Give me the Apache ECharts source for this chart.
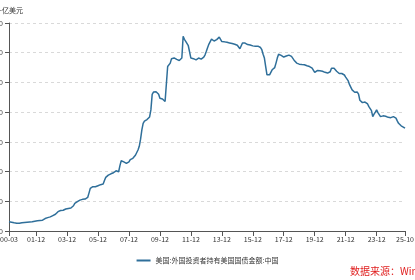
<!DOCTYPE html>
<html>
<head>
<meta charset="utf-8">
<script src="https://cdn.jsdelivr.net/npm/echarts@6/dist/echarts.min.js"></script>
<style>
html,body{margin:0;padding:0;background:#fff;}
#chart{width:415px;height:280px;}
</style>
</head>
<body>
<div id="chart"></div>
<script>
// Monthly values, 2000-03 .. 2025-10 (十亿美元)
var v2000 = [62, 60, 59, 57, 55, 54, 52, 51, 52, 53];
var v2001 = [55, 57, 57, 58, 59, 60, 61, 61, 62, 64, 66, 68];
var v2002 = [69, 70, 71, 72, 73, 78, 84, 87, 90, 93, 95, 100];
var v2003 = [104, 108, 113, 124, 130, 136, 138, 140, 140, 144, 148, 150];
var v2004 = [152, 154, 155, 156, 170, 186, 192, 197, 201, 208, 211, 213];
var v2005 = [214, 215, 218, 226, 255, 287, 292, 298, 297, 298, 296, 305];
var v2006 = [309, 312, 314, 316, 340, 361, 370, 376, 380, 385, 388, 392];
var v2007 = [398, 405, 402, 399, 440, 473, 470, 465, 459, 455, 451, 465];
var v2008 = [480, 485, 489, 500, 510, 523, 545, 570, 618, 680, 725, 740];
var v2009 = [745, 750, 760, 768, 815, 920, 935, 938, 937, 935, 920, 894];
var v2010 = [889, 889, 895, 872, 870, 1107, 1120, 1130, 1160, 1171, 1165, 1160];
var v2011 = [1155, 1150, 1148, 1155, 1164, 1310, 1290, 1276, 1265, 1247, 1240, 1164];
var v2012 = [1152, 1160, 1164, 1152, 1158, 1164, 1160, 1157, 1157, 1170, 1186, 1210];
var v2013 = [1235, 1258, 1270, 1292, 1283, 1279, 1272, 1288, 1299, 1305, 1316, 1275];
var v2014 = [1280, 1273, 1272, 1270, 1268, 1266, 1265, 1262, 1260, 1257, 1254, 1250];
var v2015 = [1240, 1227, 1240, 1265, 1268, 1265, 1263, 1255, 1249, 1252, 1254, 1246];
var v2016 = [1245, 1243, 1242, 1244, 1242, 1235, 1220, 1190, 1164, 1107, 1051, 1049];
var v2017 = [1051, 1060, 1085, 1092, 1100, 1130, 1164, 1190, 1186, 1182, 1176, 1171];
var v2018 = [1171, 1178, 1186, 1184, 1182, 1175, 1164, 1150, 1140, 1130, 1123, 1123];
var v2019 = [1123, 1120, 1121, 1119, 1115, 1112, 1110, 1107, 1103, 1096, 1090, 1067];
var v2020 = [1070, 1080, 1085, 1078, 1073, 1075, 1070, 1068, 1067, 1063, 1058, 1072];
var v2021 = [1096, 1107, 1095, 1085, 1075, 1063, 1060, 1058, 1060, 1063, 1050, 1036];
var v2022 = [1025, 1010, 985, 972, 950, 940, 934, 938, 935, 921, 880, 870];
var v2023 = [864, 860, 868, 872, 855, 837, 825, 810, 770, 786, 800, 815];
var v2024 = [797, 786, 770, 772, 775, 777, 772, 766, 765, 763, 763, 768];
var v2025 = [770, 777, 760, 741, 725, 714, 708, 702, 698, 692];

var tickLabels = ['00-03','01-12','03-12','05-12','07-12','09-12','11-12','13-12','15-12','17-12','19-12','21-12','23-12','25-10'];
var seriesName = '美国:外国投资者持有美国国债金额:中国';
var unitName = '十亿美元';
var sourceText = '数据来源：Wind';

var values = [].concat(v2000, v2001, v2002, v2003, v2004, v2005, v2006, v2007, v2008,
  v2009, v2010, v2011, v2012, v2013, v2014, v2015, v2016, v2017, v2018, v2019,
  v2020, v2021, v2022, v2023, v2024, v2025);

// month categories YY-MM starting at 2000-03
var categories = [];
for (var i = 0; i < values.length; i++) {
  var m = 2 + i; // zero-based month offset from Jan 2000
  var yy = Math.floor(m / 12) % 100;
  var mm = (m % 12) + 1;
  categories.push((yy < 10 ? '0' : '') + yy + '-' + (mm < 10 ? '0' : '') + mm);
}

var FONT = '"Noto Sans CJK SC", "Noto Sans", sans-serif';
var showTick = function (idx, val) { return tickLabels.indexOf(val) >= 0; };

var chart = echarts.init(document.getElementById('chart'));
chart.setOption({
  animation: false,
  textStyle: { fontFamily: FONT },
  grid: { left: 9, right: 10, top: 23, bottom: 49, containLabel: false, outerBoundsMode: 'none' },
  legend: {
    data: [seriesName],
    left: 'center',
    top: 252,
    icon: 'rect',
    itemWidth: 14,
    itemHeight: 2,
    itemGap: 6,
    textStyle: { fontSize: 7, color: '#333', fontFamily: FONT }
  },
  xAxis: {
    type: 'category',
    data: categories,
    boundaryGap: false,
    axisLine: { lineStyle: { color: '#555', width: 1 } },
    axisTick: { interval: showTick, length: 5, lineStyle: { color: '#555' } },
    axisLabel: { interval: showTick, fontSize: 7, color: '#333', margin: 5, hideOverlap: false, fontFamily: FONT },
    splitLine: { show: false }
  },
  yAxis: {
    type: 'value',
    min: 0,
    max: 1400,
    interval: 200,
    name: unitName,
    nameLocation: 'end',
    nameGap: 9,
    nameTextStyle: { fontSize: 7, color: '#333', fontFamily: FONT },
    axisLine: { show: true, lineStyle: { color: '#555', width: 1 } },
    axisTick: { show: true, length: 4, lineStyle: { color: '#555' } },
    axisLabel: { fontSize: 7, color: '#333', margin: 6, fontFamily: FONT },
    splitLine: { show: true, lineStyle: { color: '#d9d9d9', type: [3, 3], width: 1 } }
  },
  graphic: [{
    type: 'text',
    left: 350,
    top: 266,
    style: { text: sourceText, fill: '#e02020', fontSize: 10, fontFamily: FONT }
  }],
  series: [{
    name: seriesName,
    type: 'line',
    data: values,
    showSymbol: false,
    symbol: 'none',
    lineStyle: { color: '#2f6f9a', width: 1.5 },
    itemStyle: { color: '#2f6f9a' }
  }]
});
</script>
</body>
</html>
